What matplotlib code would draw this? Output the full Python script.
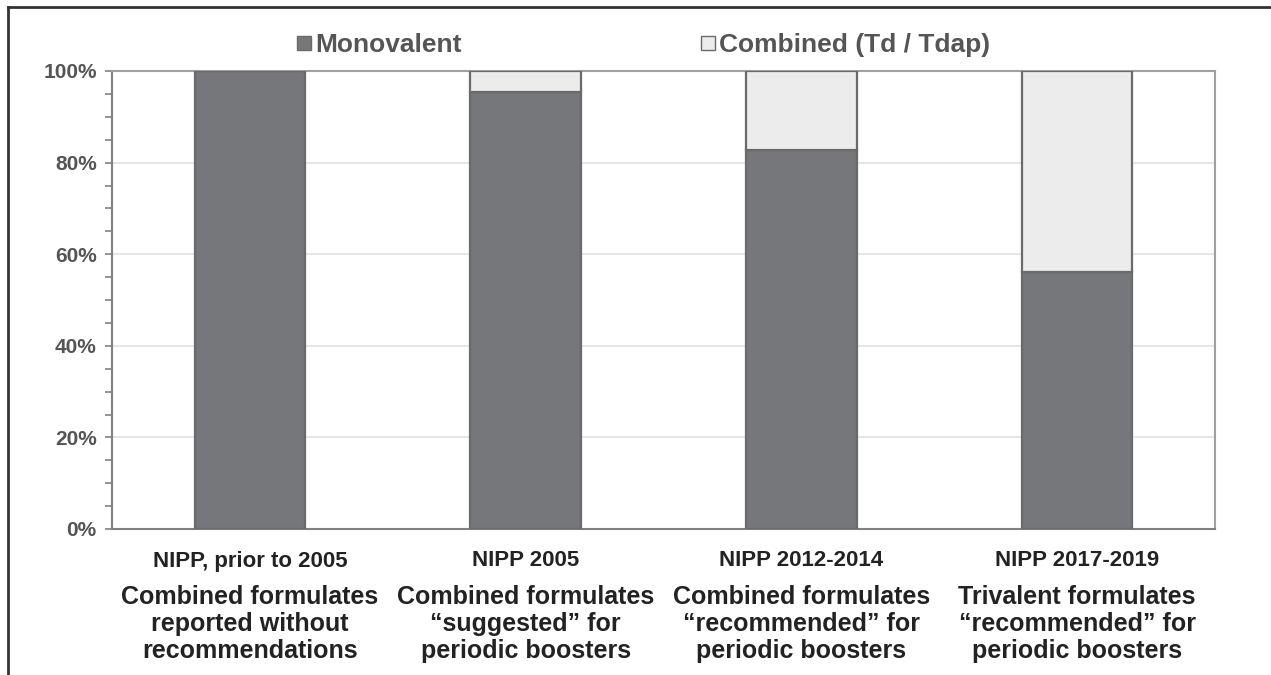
import matplotlib
matplotlib.use("Agg")
import matplotlib.pyplot as plt
from matplotlib.lines import Line2D
from matplotlib.ticker import MultipleLocator, FuncFormatter

plt.rcParams['font.family'] = ['Liberation Sans', 'DejaVu Sans']

# data (percent of schedules)
periods = ["NIPP, prior to 2005", "NIPP 2005", "NIPP 2012-2014", "NIPP 2017-2019"]
descriptions = [
    ["Combined formulates", "reported without", "recommendations"],
    ["Combined formulates", "\u201csuggested\u201d for", "periodic boosters"],
    ["Combined formulates", "\u201crecommended\u201d for", "periodic boosters"],
    ["Trivalent formulates", "\u201crecommended\u201d for", "periodic boosters"],
]
monovalent = [100.0, 95.4, 82.8, 56.1]
combined = [0.0, 4.6, 17.2, 43.9]
series_names = ["Monovalent", "Combined (Td / Tdap)"]

dark = "#76777b"
light = "#ececed"
edge = "#6a6a6a"
txt = "#222222"
gray_txt = "#555555"

W, H = 1271, 675
fig = plt.figure(figsize=(W / 100, H / 100), dpi=100)
ax = fig.add_axes([112 / W, 1 - 529 / H, (1215 - 112) / W, (529 - 71) / H])

x = list(range(len(periods)))
ax.bar(x, monovalent, width=0.40, color=dark, edgecolor=edge, linewidth=1.6, zorder=3)
ax.bar(x, combined, width=0.40, bottom=monovalent, color=light, edgecolor=edge,
       linewidth=1.6, zorder=3)

ax.set_xlim(-0.5, 3.5)
ax.set_ylim(0, 100)
ax.yaxis.set_major_locator(MultipleLocator(20))
ax.yaxis.set_minor_locator(MultipleLocator(5))
ax.yaxis.set_major_formatter(FuncFormatter(lambda v, p: f"{v:.0f}%"))
ax.grid(axis="y", which="major", color="#e2e2e2", linewidth=1.2, zorder=0)
ax.set_xticks([])
ax.tick_params(axis="y", which="both", direction="out", length=5, width=1.2,
               color="#808080", labelsize=15, labelcolor=gray_txt, pad=6)
for lbl in ax.get_yticklabels():
    lbl.set_fontweight("bold")
for side in ["left", "bottom"]:
    ax.spines[side].set_color("#808080")
    ax.spines[side].set_linewidth(1.5)
for side in ["top", "right"]:
    ax.spines[side].set_color("#a0a0a0")
    ax.spines[side].set_linewidth(1.5)

# category labels under the bars (pixel rows converted to axes fraction)
tr = ax.get_xaxis_transform()
fig_tr = fig.transFigure
line_rows = [597, 624, 651]
for i in x:
    ax.text(i, (529 - 561) / (529 - 71), periods[i], transform=tr, ha="center",
            va="center", fontsize=16, fontweight="bold", color=txt)
    for row, line in zip(line_rows, descriptions[i]):
        ax.text(i, (529 - row) / (529 - 71), line, transform=tr, ha="center",
                va="center", fontsize=18, fontweight="bold", color=txt)

# legend on top
handles = [
    Line2D([], [], marker="s", linestyle="", markersize=10, markerfacecolor=dark,
           markeredgecolor=edge),
    Line2D([], [], marker="s", linestyle="", markersize=10, markerfacecolor=light,
           markeredgecolor=edge),
]
leg = fig.legend(handles, series_names, loc="center", bbox_to_anchor=(0.505, 1 - 45 / H),
                 ncol=2, frameon=False, fontsize=19, handletextpad=0.05,
                 columnspacing=8.9, handlelength=0.8)
for t in leg.get_texts():
    t.set_fontweight("bold")
    t.set_color(gray_txt)

# figure border (top and left)
fig.add_artist(Line2D([8 / W, 8 / W], [0, 1 - 7 / H], transform=fig_tr,
                      color="#333333", linewidth=2))
fig.add_artist(Line2D([8 / W, 1], [1 - 7 / H, 1 - 7 / H], transform=fig_tr,
                      color="#333333", linewidth=2))

fig.savefig("out.png", dpi=100)
